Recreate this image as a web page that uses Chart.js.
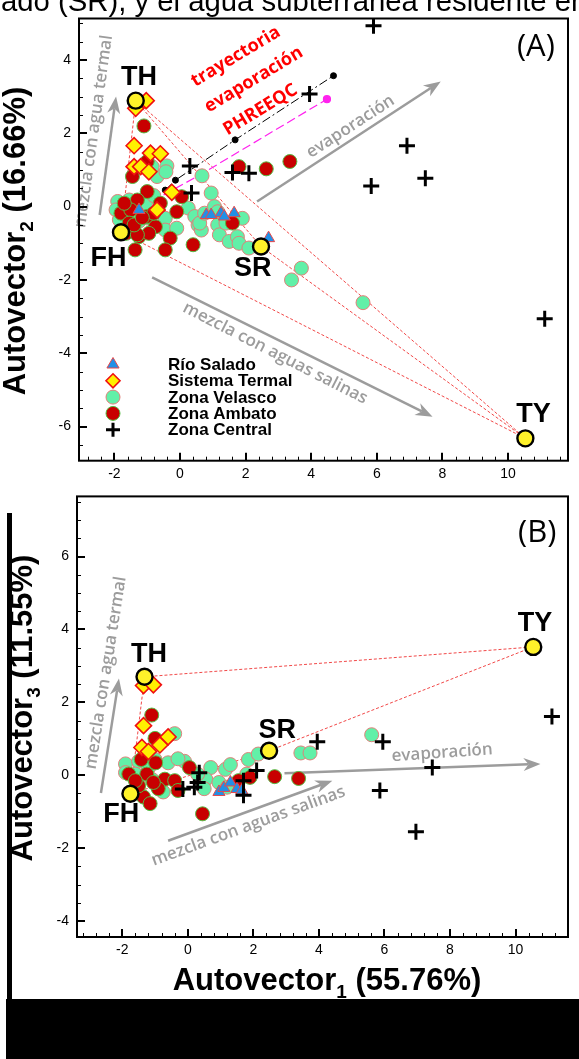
<!DOCTYPE html>
<html>
<head>
<meta charset="utf-8">
<script src="https://cdn.jsdelivr.net/npm/chart.js@4.4.1/dist/chart.umd.min.js"></script>
<style>
  html, body { margin: 0; padding: 0; background: #fff; overflow: hidden; }
  #wrap { position: relative; width: 579px; height: 1059px; }
  canvas { position: absolute; left: 0; }
  #chartA { top: 0; }
  #chartB { top: 480px; }
  .blk { position: absolute; background: #000; }
</style>
</head>
<body>
<div id="wrap">
  <canvas id="chartA" width="579" height="480"></canvas>
  <canvas id="chartB" width="579" height="519"></canvas>
  <div class="blk" style="left:7px;top:513px;width:5px;height:486px"></div>
  <div class="blk" style="left:6px;top:999px;width:573px;height:60px"></div>
</div>
<script>
// end members (same order in both panels)
const endNames = ['TH', 'FH', 'SR', 'TY'];

// ---- panel A : autovector 1 vs autovector 2 ----
const endA = [[-1.35, 2.89], [-1.80, -0.70], [2.47, -1.09], [10.53, -6.32]];
const rioA = [[-1.25, -0.09], [0.80, -0.23], [0.95, -0.23], [1.25, -0.18], [1.35, -0.27], [1.65, -0.18], [2.70, -0.86]];
const termalA = [[-1.35, 2.68], [-1.03, 2.89], [-1.40, 1.66], [-0.90, 1.46], [-0.60, 1.44], [-1.40, 1.09], [-1.20, 1.09],
  [-0.95, 0.95], [-0.25, 0.39], [-0.70, -0.09]];
const velascoA = [[-0.40, 1.11], [0.67, 0.84], [0.95, 0.37], [-0.70, 0.82], [-0.85, 1.09], [-0.43, 0.95], [-1.90, 0.14],
  [-1.95, -0.09], [-1.85, -0.36], [-1.55, 0.18], [-1.05, 0.09], [-1.50, -0.27], [-0.95, -0.32], [-0.65, -0.14],
  [-0.45, -0.32], [-0.45, -0.64], [-0.10, -0.59], [0.25, -0.04], [0.45, -0.27], [0.55, -0.50], [0.65, -0.64],
  [0.60, -0.45], [0.75, -0.18], [1.05, 0.00], [1.15, -0.14], [1.15, -0.50], [1.20, -0.77], [1.40, -0.45],
  [1.50, -0.95], [1.75, -0.82], [1.80, -1.00], [1.90, -0.32], [2.10, -1.13], [3.70, -1.68], [3.40, -2.00],
  [5.58, -2.62], [-1.60, -0.55], [-1.25, -0.40], [-0.80, 0.30]];
const ambatoA = [[-1.10, 2.20], [-1.00, 1.23], [-1.45, 0.82], [-1.00, 0.41], [0.05, 0.27], [-1.30, 0.18], [-0.60, 0.09],
  [-1.80, -0.18], [-1.50, -0.09], [-1.00, -0.27], [-0.75, -0.55], [-1.25, -0.82], [-0.30, -0.86], [-1.37, -1.18],
  [-0.45, -1.18], [0.40, -1.04], [-0.10, -0.14], [1.80, 1.09], [2.63, 1.03], [3.35, 1.23], [1.60, -0.45],
  [-0.80, -0.18], [-1.55, -0.45], [-1.65, -0.73], [-0.95, -0.73], [-1.70, 0.09], [-1.30, -0.77], [-1.40, -0.50],
  [-1.15, -0.30]];
const centralA = [[5.90, 4.93], [3.95, 3.07], [6.92, 1.66], [7.48, 0.77], [5.83, 0.56], [11.12, -3.06], [0.30, 1.11],
  [1.60, 0.93], [2.10, 0.91], [0.35, 0.37]];
const phreeqcBlack = [[-0.45, 0.45], [-0.14, 0.72], [1.68, 1.82], [4.68, 3.57]];
const phreeqcMagenta = [[-0.50, 0.32], [0.60, 0.86], [4.48, 2.93]];
const mixA = [['TH', 'FH'], ['TH', 'SR'], ['TH', 'TY'], ['FH', 'TY'], ['SR', 'TY']];

// ---- panel B : autovector 1 vs autovector 3 ----
const endB = [[-1.32, 2.70], [-1.75, -0.51], [2.48, 0.67], [10.54, 3.52]];
const rioB = [[0.95, -0.46], [1.10, -0.35], [1.30, -0.20], [1.50, -0.38], [1.65, -0.42]];
const termalB = [[-1.35, 2.46], [-1.05, 2.48], [-1.35, 1.36], [-0.85, 0.83], [-0.60, 1.05], [-1.40, 0.76], [-1.20, 0.65]];
const velascoB = [[-1.90, 0.31], [-0.40, 1.14], [-0.10, 0.38], [0.70, 0.21], [1.15, 0.16], [1.85, 0.43], [2.15, 0.58],
  [3.45, 0.61], [3.73, 0.61], [5.61, 1.11], [0.55, -0.11], [0.95, -0.20], [1.20, -0.33], [0.30, 0.03], [-0.60, 0.34],
  [-1.00, 0.43], [-1.30, 0.52], [-1.50, 0.38], [-0.75, -0.46], [1.80, 0.03], [0.50, -0.37], [1.30, 0.29],
  [-1.90, 0.07], [-1.60, 0.03], [-1.10, -0.11], [-0.30, 0.45], [-1.20, 0.20]];
const ambatoB = [[-1.10, 1.65], [-1.00, 1.01], [-1.42, 0.43], [-0.98, 0.34], [-1.80, 0.03], [-1.25, 0.03], [-0.70, -0.11],
  [-1.35, -0.60], [-1.15, -0.78], [-1.50, -0.29], [-0.90, -0.37], [-0.40, -0.15], [-0.30, -0.42], [0.05, 0.21],
  [0.45, -1.06], [1.55, -0.15], [1.90, -0.06], [2.65, -0.04], [3.38, -0.09], [-1.05, -0.20], [-1.60, -0.15]];
const centralB = [[3.95, 0.92], [5.95, 0.92], [7.46, 0.21], [5.86, -0.42], [6.96, -1.55], [11.11, 1.61], [2.10, 0.13],
  [1.70, -0.15], [1.70, -0.55], [0.35, 0.07], [0.30, -0.20], [0.20, -0.33], [-0.15, -0.38]];
const mixB = [['TH', 'FH'], ['FH', 'SR'], ['TH', 'TY'], ['SR', 'TY']];

// axis labels
const xTitle = ['Autovector', '1', ' (55.76%)'];
const yTitleA = ['Autovector', '2', ' (16.66%)'];
const yTitleB = ['Autovector', '3', ' (11.55%)'];
const caption = 'ado (SR), y el agua subterránea residente en';

Chart.defaults.font.family = '"Liberation Sans", Arial, sans-serif';
Chart.defaults.color = '#000';

const styles = {
  rio: { label: 'Río Salado', pointStyle: 'triangle', pointRadius: 7, backgroundColor: '#2290e6', borderColor: '#e8484a', borderWidth: 1, order: 3 },
  termal: { label: 'Sistema Termal', pointStyle: 'rectRot', pointRadius: 8, backgroundColor: '#fff000', borderColor: '#f01010', borderWidth: 1.6, order: 4 },
  velasco: { label: 'Zona Velasco', pointStyle: 'circle', pointRadius: 7, backgroundColor: '#62f0a8', borderColor: '#e0807a', borderWidth: 1, order: 6 },
  ambato: { label: 'Zona Ambato', pointStyle: 'circle', pointRadius: 7, backgroundColor: '#c80000', borderColor: '#55bb44', borderWidth: 1, order: 5 },
  central: { label: 'Zona Central', pointStyle: 'cross', pointRadius: 8, backgroundColor: '#000', borderColor: '#000', borderWidth: 3, order: 2 }
};

function pts(arr) { return arr.map(p => ({ x: p[0], y: p[1] })); }

function seriesSets(rio, termal, velasco, ambato, central) {
  return [
    Object.assign({ data: pts(rio) }, styles.rio),
    Object.assign({ data: pts(termal) }, styles.termal),
    Object.assign({ data: pts(velasco) }, styles.velasco),
    Object.assign({ data: pts(ambato) }, styles.ambato),
    Object.assign({ data: pts(central) }, styles.central)
  ];
}

function mixSets(ends, pairs) {
  return pairs.map(pr => ({
    data: pts([ends[endNames.indexOf(pr[0])], ends[endNames.indexOf(pr[1])]]),
    showLine: true, borderColor: 'rgba(238,40,40,0.85)', borderWidth: 1, borderDash: [3, 2],
    pointRadius: 0, order: 10
  }));
}

function endSet(ends) {
  return { data: pts(ends), pointStyle: 'circle', pointRadius: 8, backgroundColor: '#fff22a',
    borderColor: '#000', borderWidth: 2.4, order: 1 };
}

const setsA = [].concat(
  mixSets(endA, mixA),
  [{ data: pts(phreeqcBlack), showLine: true, borderWidth: 1, borderDash: [9, 3, 2, 3],
     pointRadius: 3, backgroundColor: '#000', borderColor: '#000', order: 9 },
   { data: pts(phreeqcMagenta), showLine: true, borderColor: '#ff22ee', borderWidth: 1.2, borderDash: [9, 4],
     pointRadius: [0, 2, 3.5], backgroundColor: '#ff22ee', order: 9 }],
  seriesSets(rioA, termalA, velascoA, ambatoA, centralA),
  [endSet(endA)]
);
const setsB = [].concat(
  mixSets(endB, mixB),
  seriesSets(rioB, termalB, velascoB, ambatoB, centralB),
  [endSet(endB)]
);

const GRAY = '#9c9c9c';
const noteFont = '600 17px "Open Sans", sans-serif';
const redFont = 'bold 18px "Open Sans", sans-serif';
const decorOf = {
  chartA: {
    arrows: [[-2.45, -0.23, -1.95, 3.0], [2.35, 0.14, 7.95, 3.41], [-0.85, -1.93, 7.70, -5.73]],
    notes: [
      { t: 'mezcla con agua termal', x: -2.63, y: 2.05, a: -82, f: noteFont, c: GRAY },
      { t: 'evaporación', x: 5.2, y: 2.18, a: -33, f: noteFont, c: GRAY },
      { t: 'mezcla con aguas salinas', x: 2.90, y: -4.0, a: 27, f: noteFont, c: GRAY },
      { t: 'trayectoria', x: 1.70, y: 4.09, a: -31, f: redFont, c: '#ff0000' },
      { t: 'evaporación', x: 2.25, y: 3.46, a: -31, f: redFont, c: '#ff0000' },
      { t: 'PHREEQC', x: 2.45, y: 2.64, a: -31, f: redFont, c: '#ff0000' }
    ],
    labels: [[-1.25, 3.52], [-2.18, -1.43], [2.22, -1.69], [10.78, -5.68]],
    panel: { t: '(A)', x: 10.85, y: 4.36 },
    legend: true,
    ytitle: { words: yTitleA, x: 25, y: 241 },
    caption: true
  },
  chartB: {
    arrows: [[-2.65, -0.49, -2.10, 2.65], [2.95, 0.05, 10.76, 0.31], [-0.60, -1.80, 4.41, -0.15]],
    notes: [
      { t: 'mezcla con agua termal', x: -2.50, y: 2.81, a: -81, f: noteFont, c: GRAY },
      { t: 'evaporación', x: 7.76, y: 0.61, a: -4, f: noteFont, c: GRAY },
      { t: 'mezcla con aguas salinas', x: 1.85, y: -1.40, a: -20, f: noteFont, c: GRAY }
    ],
    labels: [[-1.18, 3.32], [-2.03, -1.09], [2.73, 1.23], [10.59, 4.17]],
    panel: { t: '(B)', x: 10.66, y: 6.64 },
    legend: false,
    ytitle: { words: yTitleB, x: 32, y: 228 },
    xtitle: { words: xTitle, x: 327, y: 510 }
  }
};

function isMajor(v) { return Math.abs(v / 2 - Math.round(v / 2)) < 1e-6; }

function drawArrow(ctx, x1, y1, x2, y2) {
  const a = Math.atan2(y2 - y1, x2 - x1), L = 17, W = 6.5;
  const c = Math.cos(a), s = Math.sin(a);
  ctx.strokeStyle = GRAY; ctx.fillStyle = GRAY; ctx.lineWidth = 2.5;
  ctx.beginPath(); ctx.moveTo(x1, y1); ctx.lineTo(x2 - L * 0.7 * c, y2 - L * 0.7 * s); ctx.stroke();
  ctx.beginPath();
  ctx.moveTo(x2, y2);
  ctx.lineTo(x2 - L * c + W * s, y2 - L * s - W * c);
  ctx.lineTo(x2 - L * 0.7 * c, y2 - L * 0.7 * s);
  ctx.lineTo(x2 - L * c - W * s, y2 - L * s + W * c);
  ctx.closePath(); ctx.fill();
}

function rotText(ctx, t, x, y, deg, font, color) {
  ctx.save();
  ctx.translate(x, y); ctx.rotate(deg * Math.PI / 180);
  ctx.font = font; ctx.fillStyle = color; ctx.textAlign = 'center'; ctx.textBaseline = 'middle';
  ctx.fillText(t, 0, 0);
  ctx.restore();
}

// title with a subscript, centred on (x, y)
function subTitle(ctx, words, x, y, deg) {
  const big = 'bold 31px "Liberation Sans", Arial, sans-serif';
  const small = 'bold 19px "Liberation Sans", Arial, sans-serif';
  ctx.save();
  ctx.translate(x, y); ctx.rotate(deg * Math.PI / 180);
  ctx.fillStyle = '#000'; ctx.textBaseline = 'alphabetic'; ctx.textAlign = 'left';
  ctx.font = big; const w0 = ctx.measureText(words[0]).width, w2 = ctx.measureText(words[2]).width;
  ctx.font = small; const w1 = ctx.measureText(words[1]).width;
  let cx = -(w0 + w1 + w2) / 2;
  ctx.font = big; ctx.fillText(words[0], cx, 0); cx += w0;
  ctx.font = small; ctx.fillText(words[1], cx, 8); cx += w1;
  ctx.font = big; ctx.fillText(words[2], cx, 0);
  ctx.restore();
}

function legendMarker(ctx, st, x, y) {
  const r = 7;
  ctx.save();
  ctx.fillStyle = st.backgroundColor; ctx.strokeStyle = st.borderColor; ctx.lineWidth = st.borderWidth;
  ctx.beginPath();
  if (st.pointStyle === 'circle') {
    ctx.arc(x, y, r, 0, Math.PI * 2);
  } else if (st.pointStyle === 'triangle') {
    ctx.moveTo(x, y - r); ctx.lineTo(x + r * 0.87, y + r * 0.5); ctx.lineTo(x - r * 0.87, y + r * 0.5); ctx.closePath();
  } else if (st.pointStyle === 'rectRot') {
    ctx.moveTo(x, y - r); ctx.lineTo(x + r, y); ctx.lineTo(x, y + r); ctx.lineTo(x - r, y); ctx.closePath();
  } else {
    ctx.moveTo(x - r, y); ctx.lineTo(x + r, y); ctx.moveTo(x, y - r); ctx.lineTo(x, y + r);
    ctx.stroke(); ctx.restore(); return;
  }
  ctx.fill(); ctx.stroke();
  ctx.restore();
}

const decor = {
  id: 'decor',
  beforeDatasetsDraw(chart) {
    const d = decorOf[chart.canvas.id], ctx = chart.ctx, X = chart.scales.x, Y = chart.scales.y;
    ctx.save();
    d.arrows.forEach(a => drawArrow(ctx, X.getPixelForValue(a[0]), Y.getPixelForValue(a[1]),
      X.getPixelForValue(a[2]), Y.getPixelForValue(a[3])));
    d.notes.forEach(n => rotText(ctx, n.t, X.getPixelForValue(n.x), Y.getPixelForValue(n.y), n.a, n.f, n.c));
    ctx.restore();
  },
  afterDatasetsDraw(chart) {
    const d = decorOf[chart.canvas.id], ctx = chart.ctx, X = chart.scales.x, Y = chart.scales.y;
    const ca = chart.chartArea;
    ctx.save();
    // inward ticks
    ctx.strokeStyle = '#000';
    X.ticks.forEach(t => {
      if (t.value <= X.min + 1e-6 || t.value >= X.max - 1e-6) return;
      const m = isMajor(t.value), px = Math.round(X.getPixelForValue(t.value)) + (m ? 0 : 0.5);
      ctx.lineWidth = m ? 2 : 1;
      ctx.beginPath(); ctx.moveTo(px, ca.bottom); ctx.lineTo(px, ca.bottom - (m ? 8 : 4)); ctx.stroke();
    });
    Y.ticks.forEach(t => {
      if (t.value <= Y.min + 1e-6 || t.value >= Y.max - 1e-6) return;
      const m = isMajor(t.value), py = Math.round(Y.getPixelForValue(t.value)) + (m ? 0 : 0.5);
      ctx.lineWidth = m ? 2 : 1;
      ctx.beginPath(); ctx.moveTo(ca.left, py); ctx.lineTo(ca.left + (m ? 8 : 4), py); ctx.stroke();
    });
    ctx.lineWidth = 2;
    ctx.strokeRect(ca.left, ca.top, ca.width, ca.height);

    // end-member names
    ctx.font = 'bold 27px "Liberation Sans", Arial, sans-serif';
    ctx.fillStyle = '#000'; ctx.textAlign = 'center'; ctx.textBaseline = 'middle';
    d.labels.forEach((p, i) => ctx.fillText(endNames[i], X.getPixelForValue(p[0]), Y.getPixelForValue(p[1])));
    ctx.font = '31px "Open Sans", sans-serif';
    ctx.fillText(d.panel.t, X.getPixelForValue(d.panel.x), Y.getPixelForValue(d.panel.y));

    if (d.legend) {
      const order = ['rio', 'termal', 'velasco', 'ambato', 'central'];
      ctx.font = 'bold 17px "Liberation Sans", Arial, sans-serif';
      ctx.textAlign = 'left';
      order.forEach((k, i) => {
        const y = ca.top + 346 + i * 16.3;
        legendMarker(ctx, styles[k], ca.left + 34, y);
        ctx.fillStyle = '#000';
        ctx.fillText(styles[k].label, ca.left + 89, y + 1);
      });
    }
    ctx.restore();
  },
  afterDraw(chart) {
    const d = decorOf[chart.canvas.id], ctx = chart.ctx;
    subTitle(ctx, d.ytitle.words, d.ytitle.x, d.ytitle.y, -90);
    if (d.xtitle) subTitle(ctx, d.xtitle.words, d.xtitle.x, d.xtitle.y, 0);
    if (d.caption) {
      ctx.save();
      ctx.font = '23px "Liberation Sans", Arial, sans-serif';
      const size = 23 * 586 / ctx.measureText(caption).width;
      ctx.font = size.toFixed(1) + 'px "Liberation Sans", Arial, sans-serif';
      ctx.fillStyle = '#000'; ctx.textAlign = 'left'; ctx.textBaseline = 'alphabetic';
      ctx.fillText(caption, 1, 11);
      ctx.restore();
    }
  }
};

function makeChart(id, sets, ax) {
  return new Chart(document.getElementById(id), {
    type: 'scatter',
    data: { datasets: sets },
    options: {
      responsive: false, animation: false, devicePixelRatio: 1, events: [],
      layout: { padding: { top: ax.top, right: ax.right, left: 0, bottom: 0 } },
      plugins: { legend: { display: false }, tooltip: { enabled: false } },
      scales: {
        x: {
          type: 'linear', min: ax.xmin, max: ax.xmax,
          afterFit: s => { s.height = ax.xh; },
          grid: { display: false, drawTicks: false }, border: { display: false },
          ticks: { stepSize: 0.4, includeBounds: false, autoSkip: false, maxRotation: 0, padding: 5, font: { size: 14 },
            callback: v => isMajor(v) ? String(Math.round(v)) : '' }
        },
        y: {
          type: 'linear', min: ax.ymin, max: ax.ymax,
          afterFit: s => { s.width = ax.yw; },
          grid: { display: false, drawTicks: false }, border: { display: false },
          ticks: { stepSize: 0.5, includeBounds: false, autoSkip: false, padding: 8, font: { size: 14 },
            callback: v => isMajor(v) ? String(Math.round(v)) : '' }
        }
      }
    },
    plugins: [decor]
  });
}

makeChart('chartA', setsA, { xmin: -3.08, xmax: 11.83, ymin: -6.93, ymax: 5.13, top: 18.5, right: 3, xh: 19.3, yw: 79 });
makeChart('chartB', setsB, { xmin: -3.38, xmax: 11.6, ymin: -4.44, ymax: 7.65, top: 5, right: 2, xh: 62, yw: 77 });
</script>
</body>
</html>
